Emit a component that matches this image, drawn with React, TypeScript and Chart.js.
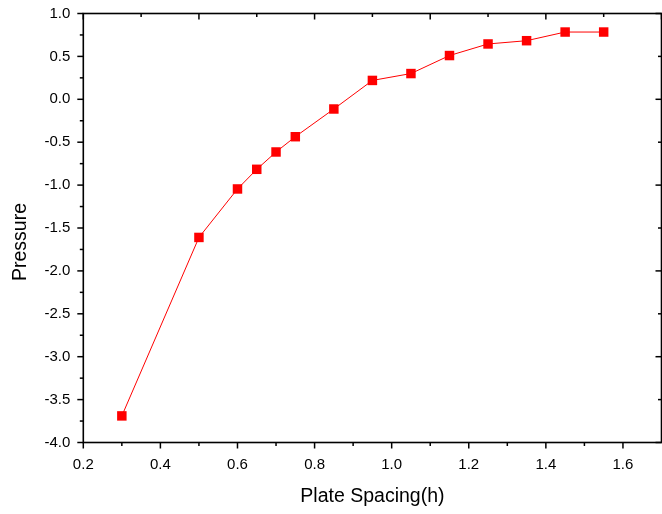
import React, { useEffect, useRef } from "react";
import { Chart, registerables } from "chart.js";

Chart.register(...registerables);

const plateSpacing = [0.3, 0.5, 0.6, 0.65, 0.7, 0.75, 0.85, 0.95, 1.05, 1.15, 1.25, 1.35, 1.45, 1.55];
const pressure = [-3.69, -1.61, -1.045, -0.816, -0.614, -0.436, -0.113, 0.22, 0.3, 0.51, 0.645, 0.683, 0.784, 0.784];

const xMin = 0.2;
const xMax = 1.7;
const yMin = -4.0;
const yMax = 1.0;

const bottomMajor = [0.2, 0.4, 0.6, 0.8, 1.0, 1.2, 1.4, 1.6];
const bottomMinor = [0.3, 0.5, 0.7, 0.9, 1.1, 1.3, 1.5];
const topMajor = [0.2, 0.5, 0.8, 1.1, 1.4, 1.7];
const topMinor = [0.35, 0.65, 0.95, 1.25, 1.55];
const leftMajor = [1.0, 0.5, 0.0, -0.5, -1.0, -1.5, -2.0, -2.5, -3.0, -3.5, -4.0];
const leftMinor = [0.75, 0.25, -0.25, -0.75, -1.25, -1.75, -2.25, -2.75, -3.25, -3.75];
const rightMajor = [1.0, 0.0, -1.0, -2.0, -3.0, -4.0];
const rightMinor = [0.5, -0.5, -1.5, -2.5, -3.5];

const xTitle = "Plate Spacing(h)";
const yTitle = "Pressure";

const FONT = "'Liberation Sans', Arial, Helvetica, sans-serif";

const framePlugin = {
  id: "originFrame",
  beforeDatasetsDraw(chart: any) {
    const { ctx, chartArea: a, scales } = chart;
    const xs = scales.x;
    const ys = scales.y;
    ctx.save();
    ctx.strokeStyle = "#000";
    ctx.lineWidth = 1.6;
    ctx.strokeRect(a.left, a.top, a.right - a.left, a.bottom - a.top);
    ctx.lineWidth = 1.5;
    const seg = (x1: number, y1: number, x2: number, y2: number) => {
      ctx.beginPath();
      ctx.moveTo(x1, y1);
      ctx.lineTo(x2, y2);
      ctx.stroke();
    };
    bottomMajor.forEach((v) => { const x = xs.getPixelForValue(v); seg(x, a.bottom, x, a.bottom + 6); });
    bottomMinor.forEach((v) => { const x = xs.getPixelForValue(v); seg(x, a.bottom, x, a.bottom + 3.5); });
    topMajor.forEach((v) => { const x = xs.getPixelForValue(v); seg(x, a.top, x, a.top + 6); });
    topMinor.forEach((v) => { const x = xs.getPixelForValue(v); seg(x, a.top, x, a.top + 3.5); });
    leftMajor.forEach((v) => { const y = ys.getPixelForValue(v); seg(a.left - 6, y, a.left, y); });
    leftMinor.forEach((v) => { const y = ys.getPixelForValue(v); seg(a.left - 3.5, y, a.left, y); });
    rightMajor.forEach((v) => { const y = ys.getPixelForValue(v); seg(a.right - 6, y, a.right, y); });
    rightMinor.forEach((v) => { const y = ys.getPixelForValue(v); seg(a.right - 3.5, y, a.right, y); });
    ctx.restore();
  },
  afterDraw(chart: any) {
    const { ctx, chartArea: a } = chart;
    ctx.save();
    ctx.fillStyle = "#000";
    ctx.font = `19.5px ${FONT}`;
    ctx.textAlign = "center";
    ctx.textBaseline = "alphabetic";
    ctx.fillText(xTitle, (a.left + a.right) / 2, 501.5);
    ctx.translate(25.5, 242);
    ctx.rotate(-Math.PI / 2);
    ctx.fillText(yTitle, 0, 0);
    ctx.restore();
  },
};

export default function App() {
  const ref = useRef<HTMLCanvasElement | null>(null);
  useEffect(() => {
    if (!ref.current) return;
    const chart = new Chart(ref.current, {
      type: "line",
      data: {
        datasets: [
          {
            data: plateSpacing.map((x, i) => ({ x, y: pressure[i] })),
            borderColor: "#ff0000",
            backgroundColor: "#ff0000",
            borderWidth: 1,
            pointStyle: "rect",
            pointRadius: 6.7,
            pointBorderWidth: 0,
            pointBackgroundColor: "#ff0000",
            tension: 0,
            clip: false as any,
          },
        ],
      },
      options: {
        responsive: false,
        animation: false,
        layout: { autoPadding: false, padding: { top: 13.5, right: 0.5, left: 0, bottom: 0 } },
        plugins: { legend: { display: false }, tooltip: { enabled: false } },
        scales: {
          x: {
            type: "linear",
            min: xMin,
            max: xMax,
            grid: { display: false, drawTicks: false },
            border: { display: false },
            ticks: {
              stepSize: 0.2,
              includeBounds: false,
              padding: 13,
              color: "#000",
              font: { family: FONT, size: 15 },
              maxRotation: 0,
              callback: (v: any) => Number(v).toFixed(1),
            },
            afterFit: (s: any) => {
              s.height = 514 - 442.5;
              s.paddingLeft = 0;
              s.paddingRight = 0;
              s.paddingTop = 0;
              s.paddingBottom = 0;
            },
          },
          y: {
            type: "linear",
            min: yMin,
            max: yMax,
            grid: { display: false, drawTicks: false },
            border: { display: false },
            ticks: {
              stepSize: 0.5,
              padding: 13,
              color: "#000",
              font: { family: FONT, size: 15 },
              callback: (v: any) => Number(v).toFixed(1),
            },
            afterFit: (s: any) => {
              s.width = 83.3;
              s.paddingLeft = 0;
              s.paddingRight = 0;
              s.paddingTop = 0;
              s.paddingBottom = 0;
            },
          },
        },
      },
      plugins: [framePlugin],
    } as any);
    return () => chart.destroy();
  }, []);
  return (
    <div style={{ position: "fixed", left: 0, top: 0, width: 662, height: 514, background: "#fff" }}>
      <canvas ref={ref} width={662} height={514} style={{ display: "block" }} />
    </div>
  );
}
